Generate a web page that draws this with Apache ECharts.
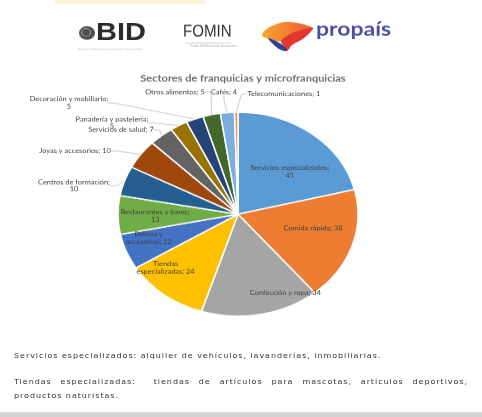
<!DOCTYPE html>
<html>
<head>
<meta charset="utf-8">
<script src="https://cdn.jsdelivr.net/npm/echarts@6/dist/echarts.min.js"></script>
<style>
  html, body { margin: 0; padding: 0; background: #fff; }
  #wrap { position: absolute; left: 0; top: 0; width: 482px; height: 491px; transform: scaleY(0.85); transform-origin: 0 0; overflow: hidden; }
  #chart { position: absolute; left: 0; top: 0; width: 482px; height: 491px; }
  .foot { position: absolute; left: 14px; width: 454px; font-family: "DejaVu Sans", sans-serif; font-size: 8px; letter-spacing: 0.95px; color: #333; white-space: nowrap; }
  .just { text-align: justify; text-align-last: justify; white-space: normal; }
  #strip { position: absolute; left: 0; top: 485px; width: 482px; height: 6px; background: #d4d4d4; }
</style>
</head>
<body>
<div id="wrap">
  <div id="chart"></div>
  <div class="foot" style="top:414px;">Servicios especializados: alquiler de vehículos, lavanderías, inmobiliarias.</div>
  <div class="foot just" style="top:445px;">Tiendas especializadas:&nbsp; tiendas de artículos para mascotas, artículos deportivos,</div>
  <div class="foot" style="top:460.5px;">productos naturistas.</div>
  <div id="strip"></div>
</div>
<script>
const titleText = 'Sectores de franquicias y microfranquicias';
const categories = ['Servicios especializados', 'Comida rápida', 'Confección y ropa', 'Tiendas especializadas', 'Belleza y accesorios', 'Restaurantes y bares', 'Centros de formación', 'Joyas y accesorios', 'Servicios de salud', 'Panadería y pastelería', 'Decoración y mobiliario', 'Otros alimentos', 'Cafés', 'Telecomunicaciones'];
const values = [45, 38, 34, 24, 12, 13, 10, 10, 7, 5, 5, 5, 4, 1];

// ---- styling / layout (not data) ----
const colors = ['#5B9BD5', '#ED7D31', '#A5A5A5', '#FFC000', '#4472C4', '#70AD47', '#255E91', '#9E480E', '#636363', '#997300', '#264478', '#43682B', '#7CAFDD', '#F1975A'];
const wrapAfter = [2, 0, 0, 1, 2, 3, 3, 0, 0, 3, 3, 0, 0, 0];
const insideCount = 6;
const insideFrac = [0.6, 0.64, 0.87, 0.8, 0.78, 0.69];
const insideRot = [8, -6, -16, 11, 4, -1];
// outside label anchors (label centres, screen px of the picture)
const outsideAnchor = { 6: [74, 186], 7: [75, 151], 8: [121, 130], 9: [112, 123], 10: [69, 103], 11: [175, 92], 12: [224, 92], 13: [284, 94] };
const CX = 238, CY = 252, R = 120;
const K = 1 / 0.85;

function fmt(p) {
  const words = (p.name + '; ' + p.value).split(' ');
  const k = wrapAfter[p.dataIndex];
  return k ? words.slice(0, k).join(' ') + '\n' + words.slice(k).join(' ') : words.join(' ');
}
function pts(arr) { return arr.map(p => [p[0], p[1] * K]); }

const labelFont = { fontFamily: 'Lato, "Open Sans", sans-serif', fontSize: 7.4, color: '#404040', lineHeight: 8.5 };

const mainData = categories.map((c, i) => ({
  name: c, value: values[i],
  itemStyle: { color: colors[i] },
  label: { show: i >= insideCount },
  labelLine: { show: i >= insideCount }
}));
const innerData = categories.map((c, i) => ({
  name: c, value: values[i],
  label: { show: i < insideCount }
}));

const chart = echarts.init(document.getElementById('chart'), null, { renderer: 'canvas' });
chart.setOption({
  animation: false,
  backgroundColor: 'transparent',
  title: {
    text: titleText, left: 238, top: 82, textAlign: 'center',
    textStyle: { fontFamily: 'Lato, "Open Sans", sans-serif', fontSize: 11, fontWeight: 'bold', color: '#6e6e6e' }
  },
  graphic: [
    { type: 'rect', shape: { x: 55, y: 0, width: 150, height: 5 }, style: { fill: '#fbf5d8' } },
    { type: 'circle', shape: { cx: 87, cy: 38.8, r: 8 }, style: { fill: '#4f4f4f' } },
    { type: 'circle', shape: { cx: 86, cy: 38, r: 4.5 }, style: { fill: 'none', stroke: '#9a9a9a', lineWidth: 1.2 } },
    { type: 'text', x: 96, y: 39, style: { text: 'BID', fontFamily: '"Liberation Sans", Arial, sans-serif', fontSize: 29, fontWeight: 'bold', fill: '#2b2b2b', verticalAlign: 'middle' } },
    { type: 'text', x: 78, y: 56, style: { text: 'Banco Interamericano de Desarrollo', fontFamily: 'sans-serif', fontSize: 4, fill: '#c8c8c8' } },
    { type: 'text', x: 183, y: 37, scaleX: 0.72, style: { text: 'FOMIN', fontFamily: '"Liberation Sans", Arial, sans-serif', fontSize: 21, fill: '#333', verticalAlign: 'middle' } },
    { type: 'rect', shape: { x: 185, y: 50, width: 46, height: 0.8 }, style: { fill: '#bbb' } },
    { type: 'text', x: 190, y: 53, style: { text: 'Fondo Multilateral de Inversiones', fontFamily: 'sans-serif', fontSize: 3.2, fill: '#aaa' } },
    { type: 'text', x: 316, y: 35, style: { text: 'propaís', fontFamily: 'Lato, sans-serif', fontSize: 23, fontWeight: 'bold', fill: '#4a4f9e', verticalAlign: 'middle' } },
    { type: 'polygon', shape: { smooth: 0.4, points: pts([[262, 35], [272, 26], [290, 22], [313, 28], [300, 31], [288, 35], [281, 41], [270, 39]]) },
      style: { fill: new echarts.graphic.LinearGradient(0, 0, 1, 0, [{ offset: 0, color: '#f7a531' }, { offset: 1, color: '#ec5a2c' }]) } },
    { type: 'polygon', shape: { smooth: 0.3, points: pts([[281, 41], [292, 33], [313, 28], [304, 38], [292, 45], [287, 51], [284, 46]]) }, style: { fill: '#e2372f' } },
    { type: 'polygon', shape: { smooth: 0.3, points: pts([[268, 38], [278, 42], [284, 46], [287, 51], [281, 50], [274, 45]]) }, style: { fill: '#2d3f8e' } }
  ],
  series: [
    {
      type: 'pie', center: [CX, CY], radius: R, startAngle: 90, clockwise: true,
      silent: true, avoidLabelOverlap: false,
      itemStyle: { borderColor: '#fff', borderWidth: 1.5 },
      label: Object.assign({ position: 'outside', formatter: fmt, alignTo: 'none' }, labelFont),
      labelLine: { length: 7, length2: 6, lineStyle: { color: '#b0b0b0', width: 0.7 } },
      labelLayout: function (p) {
        const a = outsideAnchor[p.dataIndex];
        if (!a) return {};
        return { x: a[0], y: a[1] * K, align: 'center', verticalAlign: 'middle' };
      },
      data: mainData
    },
    {
      type: 'pie', center: [CX, CY], radius: [0, R], startAngle: 90, clockwise: true,
      silent: true, z: 5,
      itemStyle: { color: 'rgba(0,0,0,0)', borderWidth: 0 },
      label: Object.assign({ position: 'inside', formatter: fmt, align: 'center' }, labelFont),
      labelLine: { show: false },
      labelLayout: function (p) {
        if (p.dataIndex >= insideCount) return {};
        const lr = p.labelRect;
        const mx = lr.x + lr.width / 2 - CX, my = lr.y + lr.height / 2 - CY;
        const ang = Math.atan2(my, mx) + insideRot[p.dataIndex] * Math.PI / 180;
        const r = insideFrac[p.dataIndex] * R;
        return { x: CX + r * Math.cos(ang), y: CY + r * Math.sin(ang) };
      },
      data: innerData
    }
  ]
});
</script>
</body>
</html>
